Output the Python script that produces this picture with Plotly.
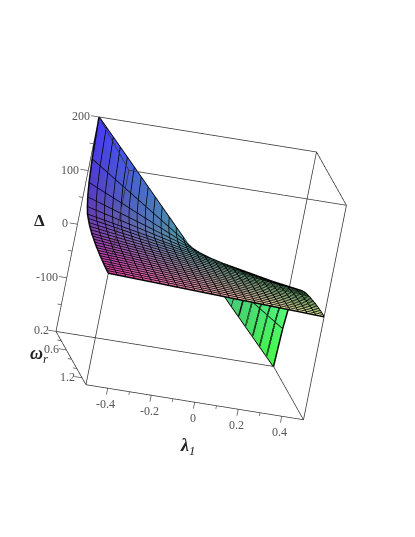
import plotly.graph_objects as go

# --- values ---
lambda_grid = [-0.5, -0.46, -0.42, -0.38, -0.34, -0.3, -0.26, -0.22, -0.18, -0.14, -0.1, -0.06, -0.02,
               0.02, 0.06, 0.1, 0.14, 0.18, 0.22, 0.26, 0.3, 0.34, 0.38, 0.42, 0.46, 0.5]
omega_grid = [0.2, 0.246, 0.292, 0.338, 0.384, 0.43, 0.476, 0.522, 0.568, 0.614, 0.66, 0.706, 0.752,
              0.798, 0.844, 0.89, 0.936, 0.982, 1.028, 1.074, 1.12, 1.166, 1.212, 1.258, 1.304, 1.35]
# Delta along the lambda=-0.5 edge, one value per omega row
edge_delta = [200, 125, 85, 62, 48, 38, 34, 30, 27, 24.5, 22, 20.5, 19, 17.5, 16, 15, 14, 13, 12, 11.3,
              10.5, 9.8, 9.2, 8.8, 8.4, 8]
# the sheet is straight across lambda: +edge at -0.5, 0 at 0, -edge at +0.5
lambda_ticks = [-0.4, -0.2, 0, 0.2, 0.4]
lambda_minor = [-0.3, -0.1, 0.1, 0.3]
delta_ticks = [200, 100, 0, -100]
delta_minor = [150, 50, -50, -150]
omega_ticks = [0.2, 0.6, 1.2]
omega_minor = [0.4, 0.8, 1.0]
L0, L1 = -0.5, 0.5
W0, W1 = 0.2, 1.35
D0, D1 = -200, 200

BOX = "#333333"
TICK = "#555555"
FONT = "Liberation Serif"

X, Y, Z, C = [], [], [], []
nl, nw = len(lambda_grid), len(omega_grid)
def frac(v, a, b):
    return (v - a) / (b - a)
for j, w in enumerate(omega_grid):
    for l in lambda_grid:
        d = edge_delta[j] * (-l / 0.5)
        X.append(l); Y.append(w); Z.append(d)
        r = 70 + 160 * frac(w, W0, W1)
        g = 60 + 190 * frac(l, L0, L1)
        b = 70 + 185 * frac(d, D0, D1)
        C.append(f"rgb({r:.0f},{g:.0f},{b:.0f})")
I, J, K = [], [], []
for j in range(nw - 1):
    for i in range(nl - 1):
        a = j * nl + i
        I += [a, a]; J += [a + 1, a + nl + 1]; K += [a + nl + 1, a + nl]

fig = go.Figure()
fig.add_trace(go.Mesh3d(x=X, y=Y, z=Z, i=I, j=J, k=K, vertexcolor=C, flatshading=False,
                        lighting=dict(ambient=1, diffuse=0, specular=0, roughness=1, fresnel=0),
                        hoverinfo="skip", showscale=False))

# mesh lines
mx, my, mz = [], [], []
for j, w in enumerate(omega_grid):
    for l in lambda_grid:
        mx.append(l); my.append(w); mz.append(edge_delta[j] * (-l / 0.5))
    mx.append(None); my.append(None); mz.append(None)
for l in lambda_grid:
    for j, w in enumerate(omega_grid):
        mx.append(l); my.append(w); mz.append(edge_delta[j] * (-l / 0.5))
    mx.append(None); my.append(None); mz.append(None)
fig.add_trace(go.Scatter3d(x=mx, y=my, z=mz, mode="lines", line=dict(color="#000000", width=3),
                           hoverinfo="skip", showlegend=False))

# box
corners = [(a, b, c) for a in (L0, L1) for b in (W0, W1) for c in (D0, D1)]
bx, by, bz = [], [], []
for p in corners:
    for q in corners:
        if p < q and sum(u != v for u, v in zip(p, q)) == 1:
            bx += [p[0], q[0], None]; by += [p[1], q[1], None]; bz += [p[2], q[2], None]
fig.add_trace(go.Scatter3d(x=bx, y=by, z=bz, mode="lines", line=dict(color=BOX, width=1.5),
                           hoverinfo="skip", showlegend=False))

# ticks
tx, ty, tz = [], [], []
for v, ln in [(v, 12) for v in lambda_ticks] + [(v, 6) for v in lambda_minor]:
    tx += [v, v, None]; ty += [W1, W1, None]; tz += [D0, D0 - ln, None]
for v, ln in [(v, 0.036) for v in delta_ticks] + [(v, 0.018) for v in delta_minor]:
    tx += [L0, L0 - ln, None]; ty += [W0, W0, None]; tz += [v, v, None]
for v, ln in [(v, 0.036) for v in omega_ticks] + [(v, 0.018) for v in omega_minor]:
    tx += [L0, L0 - ln, None]; ty += [v, v, None]; tz += [D0, D0, None]
fig.add_trace(go.Scatter3d(x=tx, y=ty, z=tz, mode="lines", line=dict(color=TICK, width=1.5),
                           hoverinfo="skip", showlegend=False))

ann = []
for v in lambda_ticks:
    ann.append(dict(x=v, y=W1, z=D0, text=f"{v:g}", showarrow=False, xshift=-2, yshift=-16,
                    font=dict(family=FONT, size=12, color="#555555")))
for v in delta_ticks:
    ann.append(dict(x=L0, y=W0, z=v, text=f"{v:g}", showarrow=False, xanchor="right", xshift=-7, yshift=1,
                    font=dict(family=FONT, size=12, color="#555555")))
for v in omega_ticks:
    ann.append(dict(x=L0, y=v, z=D0, text=f"{v:g}", showarrow=False, xanchor="right", xshift=-5, yshift=1,
                    font=dict(family=FONT, size=12, color="#555555")))

hidden = dict(visible=False, showspikes=False)
eye_dir = (-0.1735, -0.959, 0.21)
R = 1.8
shift = (0.0384, -0.0118, -0.0225)
title_font = dict(family=FONT, size=18, color="#222222")
fig.update_layout(
    width=415, height=537, margin=dict(l=0, r=0, t=0, b=0), paper_bgcolor="white", showlegend=False,
    scene=dict(
        domain=dict(x=[0, 0.976], y=[0, 1]),
        xaxis=dict(range=[-0.6, 0.6], **hidden),
        yaxis=dict(range=[1.465, 0.085], **hidden),
        zaxis=dict(range=[-240, 240], **hidden),
        aspectmode="manual", aspectratio=dict(x=1, y=1, z=1),
        camera=dict(projection=dict(type="orthographic"),
                    center=dict(x=shift[0], y=shift[1], z=shift[2]),
                    up=dict(x=-0.156, y=0.237, z=0.955),
                    eye=dict(x=eye_dir[0] * R + shift[0], y=eye_dir[1] * R + shift[1], z=eye_dir[2] * R + shift[2])),
        annotations=ann,
    ),
    annotations=[
        dict(x=31 / 415, y=1 - 212 / 537, xref="paper", yref="paper", showarrow=False, text="<b>Δ</b>",
             xanchor="center", yanchor="middle", font=dict(family=FONT, size=17, color="#222222")),
        dict(x=31 / 415, y=1 - 346 / 537, xref="paper", yref="paper", showarrow=False,
             xanchor="center", yanchor="middle",
             text="<b><i>ω</i></b><sub><i>r</i></sub>", font=title_font),
        dict(x=179 / 415, y=1 - 438 / 537, xref="paper", yref="paper", showarrow=False,
             xanchor="center", yanchor="middle",
             text="<b><i>λ</i></b><sub><i>1</i></sub>", font=title_font),
    ],
)
fig.write_html("out.html")
